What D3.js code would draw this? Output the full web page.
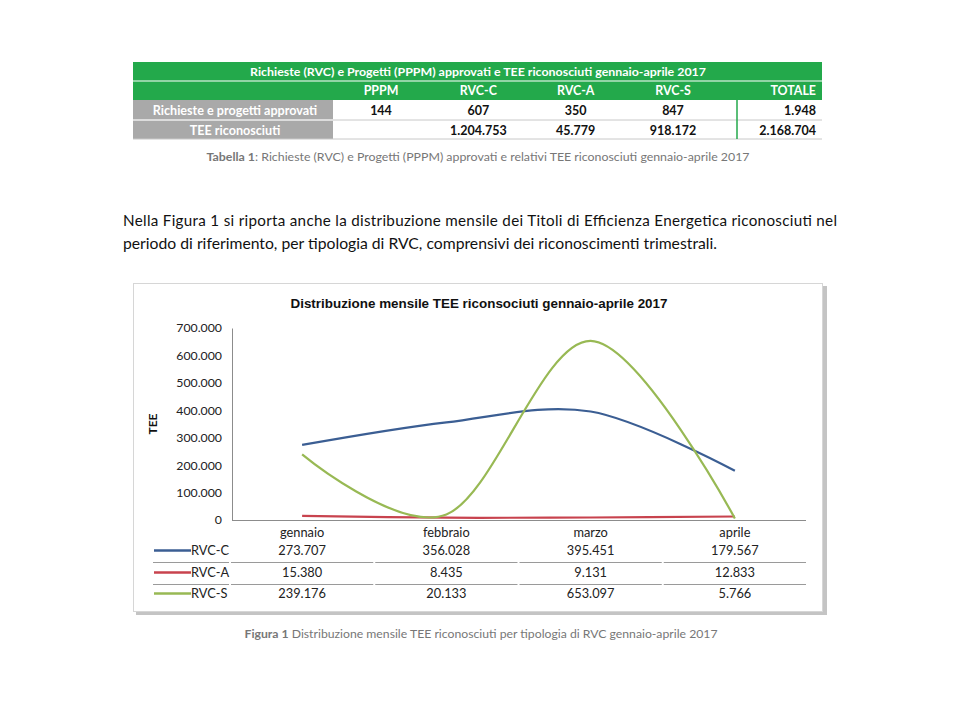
<!DOCTYPE html>
<html><head><meta charset="utf-8">
<script src="https://cdn.jsdelivr.net/npm/d3@7"></script>
<style>body{margin:0;background:#fff}svg{display:block}</style>
</head><body>
<svg id="c" width="960" height="720"></svg>
<script>
// ---- data ----
const tableTitle = "Richieste (RVC) e Progetti (PPPM) approvati e TEE riconosciuti gennaio-aprile 2017";
const tableCols = ["PPPM", "RVC-C", "RVC-A", "RVC-S", "TOTALE"];
const tableRowLabels = ["Richieste e progetti approvati", "TEE riconosciuti"];
const approvati = [144, 607, 350, 847, 1948];
const teeRiconosciuti = [null, 1204753, 45779, 918172, 2168704];
const months = ["gennaio", "febbraio", "marzo", "aprile"];
const seriesNames = ["RVC-C", "RVC-A", "RVC-S"];
const rvcC = [273707, 356028, 395451, 179567];
const rvcA = [15380, 8435, 9131, 12833];
const rvcS = [239176, 20133, 653097, 5766];
const yTicks = [0, 100000, 200000, 300000, 400000, 500000, 600000, 700000];

const loc = d3.formatLocale({decimal: ",", thousands: ".", grouping: [3], currency: ["", "€"]});
const fmt = loc.format(",.0f");
const svg = d3.select("#c");
const F = "Lato, 'Open Sans', sans-serif";
const GREEN = "#23a94b", GREY = "#a9a9a9";

// ---- table ----
const tX0 = 133, tX1 = 822, leftW = 200;
const colCenters = d3.scalePoint().domain(tableCols.slice(0, 4)).range([381, 673]);
const rowsY = [62, 81, 100, 120, 139];
svg.append("rect").attr("x", tX0).attr("y", rowsY[0]).attr("width", tX1 - tX0).attr("height", rowsY[2] - rowsY[0]).attr("fill", GREEN);
svg.append("line").attr("x1", tX0).attr("x2", tX1).attr("y1", rowsY[1]).attr("y2", rowsY[1]).attr("stroke", "#fff").attr("stroke-width", 1.2);
svg.append("text").attr("x", 478).attr("y", 76).attr("text-anchor", "middle").attr("fill", "#fff")
  .attr("font-family", F).attr("font-weight", "bold").attr("font-size", 12.2)
  .attr("textLength", 456).attr("lengthAdjust", "spacingAndGlyphs").text(tableTitle);
tableCols.forEach((c, i) => {
  const last = i === 4;
  svg.append("text").attr("x", last ? 816 : colCenters(c)).attr("y", 95)
    .attr("text-anchor", last ? "end" : "middle").attr("fill", "#fff")
    .attr("font-family", F).attr("font-weight", "bold").attr("font-size", 12.4).text(c);
});
svg.append("rect").attr("x", tX0).attr("y", rowsY[2]).attr("width", leftW).attr("height", rowsY[4] - rowsY[2]).attr("fill", GREY);
[rowsY[3], rowsY[4]].forEach(y => svg.append("line").attr("x1", tX0).attr("x2", tX1).attr("y1", y).attr("y2", y).attr("stroke", "#c8c8c8").attr("stroke-width", 1));
svg.append("line").attr("x1", tX0).attr("x2", tX0 + leftW).attr("y1", rowsY[3]).attr("y2", rowsY[3]).attr("stroke", "#fff");
svg.append("line").attr("x1", 737).attr("x2", 737).attr("y1", rowsY[2]).attr("y2", rowsY[4]).attr("stroke", GREEN).attr("stroke-width", 1.5);
[approvati, teeRiconosciuti].forEach((row, r) => {
  const y = rowsY[2 + r] + 14.5;
  svg.append("text").attr("x", tX0 + leftW / 2 + 2).attr("y", y).attr("text-anchor", "middle").attr("fill", "#fff")
    .attr("font-family", F).attr("font-weight", "bold").attr("font-size", 12.6).text(tableRowLabels[r]);
  row.forEach((v, i) => {
    if (v === null) return;
    const last = i === 4;
    svg.append("text").attr("x", last ? 816 : colCenters(tableCols[i])).attr("y", y)
      .attr("text-anchor", last ? "end" : "middle").attr("fill", "#111")
      .attr("font-family", F).attr("font-weight", "bold").attr("font-size", 12.5).text(fmt(v));
  });
});
const cap1 = svg.append("text").attr("x", 478).attr("y", 161).attr("text-anchor", "middle").attr("fill", "#777")
  .attr("font-family", F).attr("font-size", 12.2).attr("textLength", 543).attr("lengthAdjust", "spacingAndGlyphs");
cap1.append("tspan").attr("font-weight", "bold").text("Tabella 1");
cap1.append("tspan").text(": Richieste (RVC) e Progetti (PPPM) approvati e relativi TEE riconosciuti gennaio-aprile 2017");

// ---- paragraph ----
svg.append("text").attr("x", 123).attr("y", 226).attr("fill", "#111").attr("font-family", F).attr("font-size", 15.2)
  .attr("textLength", 714).attr("lengthAdjust", "spacing")
  .text("Nella Figura 1 si riporta anche la distribuzione mensile dei Titoli di Efficienza Energetica riconosciuti nel");
svg.append("text").attr("x", 123).attr("y", 249).attr("fill", "#111").attr("font-family", F).attr("font-size", 15.2)
  .attr("textLength", 594).attr("lengthAdjust", "spacingAndGlyphs")
  .text("periodo di riferimento, per tipologia di RVC, comprensivi dei riconoscimenti trimestrali.");

// ---- chart box ----
svg.append("rect").attr("x", 136).attr("y", 286).attr("width", 691).attr("height", 329).attr("fill", "#c4c4c4");
svg.append("rect").attr("x", 133.5).attr("y", 283.5).attr("width", 689).attr("height", 328).attr("fill", "#fff").attr("stroke", "#d6d6d6");
svg.append("text").attr("x", 479).attr("y", 308).attr("text-anchor", "middle").attr("fill", "#111")
  .attr("font-family", "'Liberation Sans', Arial, sans-serif").attr("font-weight", "bold").attr("font-size", 13.3)
  .attr("textLength", 377).attr("lengthAdjust", "spacingAndGlyphs")
  .text("Distribuzione mensile TEE riconsociuti gennaio-aprile 2017");

const x = d3.scaleBand().domain(months).range([230, 807]);
const cx = m => x(m) + x.bandwidth() / 2;
const y = d3.scaleLinear().domain([0, 700000]).range([520, 328]);

const yAxis = svg.append("g").attr("transform", "translate(232,0)")
  .call(d3.axisLeft(y).tickValues(yTicks).tickSize(0).tickPadding(10).tickFormat(fmt));
yAxis.select(".domain").attr("stroke", "#8c8c8c");
yAxis.selectAll("text").attr("font-family", F).attr("font-size", 12.3).attr("fill", "#222");
svg.append("text").attr("transform", "translate(157,424) rotate(-90)").attr("text-anchor", "middle")
  .attr("font-family", F).attr("font-weight", "bold").attr("font-size", 12).attr("fill", "#111").text("TEE");
svg.append("line").attr("x1", 232).attr("x2", 806).attr("y1", 520.5).attr("y2", 520.5).attr("stroke", "#8c8c8c");

const colors = ["#3b5e93", "#c8434e", "#98b954"];
const series = [rvcC, rvcA, rvcS];
const line = d3.line().x((d, i) => cx(months[i])).y(d => y(d)).curve(d3.curveCardinal.tension(0));
series.forEach((s, k) => {
  svg.append("path").datum(s).attr("d", line).attr("fill", "none").attr("stroke", colors[k]).attr("stroke-width", 2.2);
});

// category labels and data table
months.forEach(m => svg.append("text").attr("x", cx(m)).attr("y", 537).attr("text-anchor", "middle")
  .attr("font-family", F).attr("font-size", 12.8).attr("fill", "#222").text(m));
const rowY = [555, 577, 598];
series.forEach((s, k) => {
  svg.append("line").attr("x1", 154).attr("x2", 191).attr("y1", rowY[k] - 4.5).attr("y2", rowY[k] - 4.5)
    .attr("stroke", colors[k]).attr("stroke-width", 2.5);
  svg.append("text").attr("x", 191).attr("y", rowY[k]).attr("font-family", F).attr("font-size", 12.8).attr("fill", "#222").text(seriesNames[k]);
  s.forEach((v, i) => svg.append("text").attr("x", cx(months[i])).attr("y", rowY[k]).attr("text-anchor", "middle")
    .attr("font-family", F).attr("font-size", 12.8).attr("fill", "#222").text(fmt(v)));
});
[562, 584].forEach(yy => {
  const segs = [[153, 229]].concat(months.map(m => [x(m) + 1, x(m) + x.bandwidth() - 1]));
  segs.forEach(([a, b]) => svg.append("line").attr("x1", a).attr("x2", b).attr("y1", yy + 0.5).attr("y2", yy + 0.5).attr("stroke", "#9a9a9a"));
});

const cap2 = svg.append("text").attr("x", 481).attr("y", 638).attr("text-anchor", "middle").attr("fill", "#777")
  .attr("font-family", F).attr("font-size", 12.2).attr("textLength", 473).attr("lengthAdjust", "spacingAndGlyphs");
cap2.append("tspan").attr("font-weight", "bold").text("Figura 1");
cap2.append("tspan").text(" Distribuzione mensile TEE riconosciuti per tipologia di RVC gennaio-aprile 2017");
</script>
</body></html>
